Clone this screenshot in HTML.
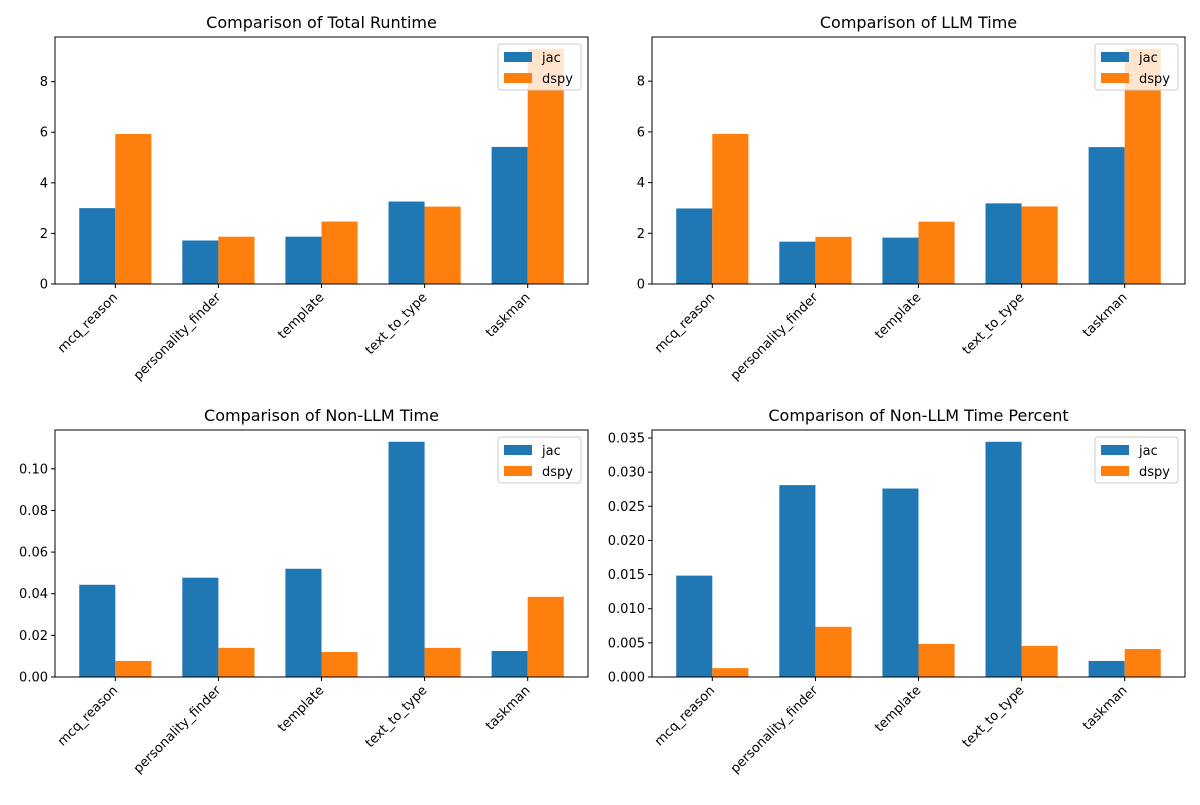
<!DOCTYPE html>
<html><head><meta charset="utf-8"><style>
body{margin:0;background:#fff;font-family:"Liberation Sans","DejaVu Sans",sans-serif}
svg text{font-family:"DejaVu Sans","Liberation Sans",sans-serif}
</style></head><body>
<svg id="fig" width="1200" height="800" xmlns="http://www.w3.org/2000/svg"></svg>
<script>
const categories=["mcq_reason","personality_finder","template","text_to_type","taskman"];
const seriesNames=["jac","dspy"];
const totalJac=[3.0,1.72,1.87,3.26,5.42];
const totalDspy=[5.93,1.87,2.47,3.06,9.3];
const llmJac=[2.98,1.67,1.83,3.18,5.40];
const llmDspy=[5.92,1.86,2.46,3.06,9.28];
const nonJac=[0.0443,0.0477,0.052,0.113,0.0125];
const nonDspy=[0.0077,0.014,0.012,0.014,0.0385];
const pctJac=[0.01485,0.0281,0.0276,0.03445,0.00235];
const pctDspy=[0.0013,0.00735,0.00485,0.00455,0.0041];
const ticksBig=[0,2,4,6,8];
const ticksNon=[0,0.02,0.04,0.06,0.08,0.10];
const ticksPct=[0,0.005,0.010,0.015,0.020,0.025,0.030,0.035];
const colors=["#1f77b4","#ff7f0e"];
const NS="http://www.w3.org/2000/svg";
const svg=document.getElementById('fig');
function mk(tag,attrs,parent){const e=document.createElementNS(NS,tag);for(const k in attrs)e.setAttribute(k,attrs[k]);(parent||svg).appendChild(e);return e;}
function panel(name,title,x0,y0,jac,dspy,ticks,dec){
  const W=533,H=247;
  const g=mk('g',{});
  
  
  const maxV=Math.max(...jac,...dspy)*1.05;
  const xs=v=>x0+(v+0.585)/5.17*W;
  const ys=v=>y0+H-v/maxV*H;
  const bw=0.35/5.17*W;
  [jac,dspy].forEach((arr,s)=>arr.forEach((v,i)=>{
    const cx=xs(i);const left=s===0?cx-bw:cx;
    const r=mk('rect',{x:left,y:ys(v),width:bw,height:ys(0)-ys(v),fill:colors[s]},g);
    
    
  }));
  mk('rect',{x:x0,y:y0,width:W,height:H,fill:'none',stroke:'#000','stroke-width':1},g);
  const t=mk('text',{x:x0+W/2,y:y0-9,'text-anchor':'middle','font-size':16},g);t.textContent=title;
  
  ticks.forEach(v=>{const y=ys(v);mk('line',{x1:x0-4,x2:x0,y1:y,y2:y,stroke:'#000'},g);
    const l=mk('text',{x:x0-7,y:y+4.5,'text-anchor':'end','font-size':13},g);l.textContent=v.toFixed(dec);
    });
  categories.forEach((c,i)=>{const x=xs(i);mk('line',{x1:x,x2:x,y1:y0+H,y2:y0+H+4,stroke:'#000'},g);
    const l=mk('text',{x:x+3,y:y0+H+14,'text-anchor':'end','font-size':13,transform:`rotate(-45 ${x+3} ${y0+H+14})`},g);l.textContent=c;
    });
  const lx=x0+W-90,ly=y0+7;
  const lg=mk('g',{},g);
  
  mk('rect',{x:lx,y:ly,width:83,height:46,rx:3,fill:'#fff','fill-opacity':0.8,stroke:'#ccc'},lg);
  seriesNames.forEach((n,s)=>{mk('rect',{x:lx+6,y:ly+8+s*21,width:28,height:10,fill:colors[s]},lg);
    const tt=mk('text',{x:lx+44,y:ly+18+s*21,'font-size':13},lg);tt.textContent=n;
    });
}
panel('total-runtime-chart','Comparison of Total Runtime',55,37,totalJac,totalDspy,ticksBig,0);
panel('llm-time-chart','Comparison of LLM Time',652,37,llmJac,llmDspy,ticksBig,0);
panel('non-llm-time-chart','Comparison of Non-LLM Time',55,430,nonJac,nonDspy,ticksNon,2);
panel('non-llm-percent-chart','Comparison of Non-LLM Time Percent',652,430,pctJac,pctDspy,ticksPct,3);
</script>
</body></html>
